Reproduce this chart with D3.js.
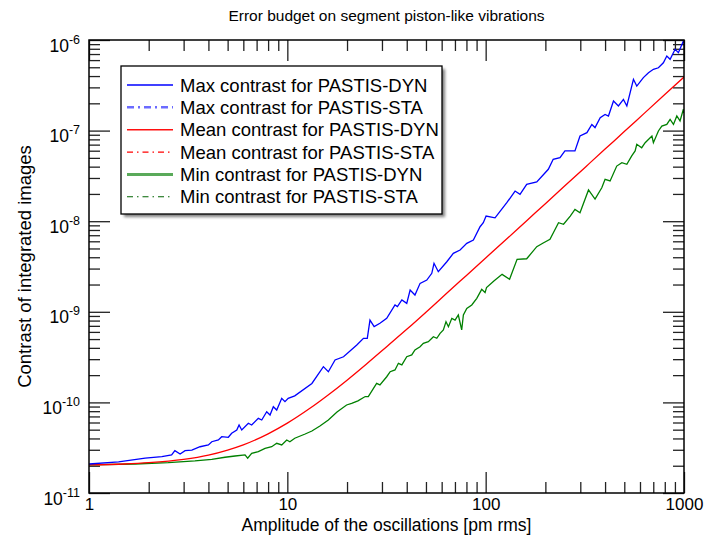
<!DOCTYPE html>
<html>
<head>
<meta charset="utf-8">
<script src="https://cdn.jsdelivr.net/npm/d3@7"></script>
<style>
  body { margin: 0; background: #fff; }
  svg { display: block; font-family: "Liberation Sans", Arial, Helvetica, sans-serif; }
</style>
</head>
<body>
<svg id="chart" width="705" height="537"></svg>
<script>
// Axis ticks
const xTicks = [1, 10, 100, 1000];
const yTicks = [1e-11, 1e-10, 1e-9, 1e-8, 1e-7, 1e-6];
const yTickExp = ['-11', '-10', '-9', '-8', '-7', '-6'];

const titleText = 'Error budget on segment piston-like vibrations';
const xTitle = 'Amplitude of the oscillations [pm rms]';
const yTitle = 'Contrast of integrated images';

const legendLabels = [
  'Max contrast for PASTIS-DYN',
  'Max contrast for PASTIS-STA',
  'Mean contrast for PASTIS-DYN',
  'Mean contrast for PASTIS-STA',
  'Min contrast for PASTIS-DYN',
  'Min contrast for PASTIS-STA'
];

// [amplitude (pm rms), contrast]
const meanSeries = [
  [1, 2.04e-11], [1.5, 2.09e-11], [2, 2.16e-11], [3, 2.35e-11], [4, 2.62e-11],
  [5, 2.98e-11], [6, 3.40e-11], [8, 4.5e-11], [10, 5.9e-11], [13, 8.6e-11],
  [16, 1.20e-10], [20, 1.76e-10], [25, 2.64e-10], [32, 4.2e-10], [40, 6.4e-10],
  [50, 9.9e-10], [63, 1.57e-9], [80, 2.52e-9], [100, 3.92e-9], [130, 6.6e-9],
  [160, 1.0e-8], [200, 1.56e-8], [250, 2.44e-8], [320, 4.0e-8], [400, 6.25e-8],
  [500, 9.75e-8], [630, 1.55e-7], [800, 2.5e-7], [1000, 3.9e-7]
];

const maxSeries = [
  [1, 2.09e-11], [1.41, 2.20e-11], [1.92, 2.42e-11], [2.33, 2.52e-11], [2.61, 2.63e-11],
  [2.71, 2.93e-11], [2.88, 2.69e-11], [3.05, 2.93e-11], [3.30, 2.98e-11], [3.63, 3.24e-11],
  [4.0, 3.39e-11], [4.16, 3.68e-11], [4.49, 3.85e-11], [4.67, 4.18e-11], [5.04, 4.12e-11],
  [5.24, 4.56e-11], [5.56, 4.96e-11], [5.71, 5.63e-11], [5.89, 4.96e-11], [6.36, 5.88e-11],
  [6.61, 5.63e-11], [7.14, 6.67e-11], [7.43, 6.39e-11], [7.87, 7.89e-11], [8.18, 7.26e-11],
  [8.50, 8.97e-11], [8.84, 8.24e-11], [9.37, 1.11e-10], [9.73, 1.02e-10], [10.1, 1.11e-10],
  [10.9, 1.18e-10], [13.3, 1.62e-10], [15.2, 2.48e-10], [16.1, 2.18e-10], [17.4, 2.94e-10],
  [19.2, 3.19e-10], [22.4, 4.30e-10], [24.2, 5.10e-10], [25.3, 5.10e-10], [26.1, 8.11e-10],
  [27.4, 6.85e-10], [29.3, 7.46e-10], [31.7, 8.47e-10], [34.9, 1.19e-9], [35.9, 1.14e-9],
  [37.8, 1.35e-9], [40.0, 1.24e-9], [41.6, 1.74e-9], [44.0, 1.53e-9], [46.7, 2.06e-9],
  [50.5, 2.24e-9], [53.5, 2.66e-9], [54.9, 3.43e-9], [57.7, 2.77e-9], [63.7, 3.57e-9],
  [68.7, 4.42e-9], [74.3, 4.81e-9], [80.3, 5.70e-9], [86.7, 6.20e-9], [93.7, 8.69e-9],
  [97.3, 9.62e-9], [100.5, 1.14e-8], [111.5, 1.09e-8], [127.8, 1.60e-8], [140.7, 2.15e-8],
  [149, 1.98e-8], [161, 2.55e-8], [181, 2.71e-8], [207, 3.74e-8], [219, 4.82e-8],
  [237, 5.02e-8], [251, 5.96e-8], [282, 5.96e-8], [299, 8.71e-8], [324, 9.48e-8],
  [343, 1.17e-7], [356, 1.08e-7], [378, 1.39e-7], [400, 1.51e-7], [416, 1.45e-7],
  [441, 2.12e-7], [467, 1.87e-7], [495, 2.21e-7], [515, 1.87e-7], [556, 3.68e-7],
  [578, 3.10e-7], [624, 3.84e-7], [662, 4.36e-7], [701, 4.75e-7], [743, 4.94e-7],
  [787, 5.61e-7], [819, 6.65e-7], [851, 6.12e-7], [902, 7.89e-7], [937, 7.24e-7],
  [993, 9.75e-7], [1000, 9.2e-7]
];

const minSeries = [
  [1, 2.04e-11], [1.71, 2.09e-11], [2.51, 2.16e-11], [3.42, 2.26e-11], [4.16, 2.35e-11],
  [4.85, 2.48e-11], [5.45, 2.56e-11], [6.12, 2.63e-11], [6.31, 2.42e-11], [6.61, 2.74e-11],
  [7.14, 2.86e-11], [7.72, 3.11e-11], [8.34, 3.24e-11], [8.84, 3.54e-11], [9.37, 3.39e-11],
  [9.93, 3.85e-11], [10.3, 3.68e-11], [10.9, 4.02e-11], [12.3, 4.48e-11], [13.3, 4.83e-11],
  [14.6, 5.49e-11], [16.1, 6.39e-11], [17.8, 7.83e-11], [19.9, 9.36e-11], [21.1, 9.77e-11],
  [22.7, 1.04e-10], [24.7, 1.16e-10], [25.6, 1.16e-10], [28.2, 1.62e-10], [29.3, 1.56e-10],
  [31.7, 1.92e-10], [33.0, 2.18e-10], [34.9, 2.28e-10], [36.3, 2.70e-10], [37.8, 2.59e-10],
  [40.0, 3.19e-10], [42.4, 3.34e-10], [44.0, 3.79e-10], [46.7, 4.12e-10], [48.5, 4.49e-10],
  [51.4, 4.68e-10], [54.5, 5.31e-10], [56.7, 5.10e-10], [58.9, 5.79e-10], [61.2, 6.30e-10],
  [63.1, 7.78e-10], [64.9, 6.85e-10], [67.5, 8.47e-10], [70.1, 8.11e-10], [72.8, 9.22e-10],
  [75.7, 6.30e-10], [77.2, 9.22e-10], [80.3, 1.09e-9], [85.1, 1.19e-9], [90.2, 1.41e-9],
  [95.5, 1.77e-9], [99.3, 1.63e-9], [101, 1.85e-9], [110, 2.19e-9], [121, 2.59e-9],
  [132, 2.29e-9], [144, 3.80e-9], [161, 3.85e-9], [181, 5.23e-9], [195, 5.74e-9],
  [211, 6.31e-9], [233, 9.62e-9], [247, 9.25e-9], [267, 1.14e-8], [282, 1.35e-8],
  [299, 1.24e-8], [330, 2.21e-8], [356, 1.75e-8], [385, 2.34e-8], [400, 2.90e-8],
  [424, 2.78e-8], [458, 4.06e-8], [486, 4.43e-8], [515, 4.25e-8], [545, 5.25e-8],
  [567, 5.96e-8], [578, 7.06e-8], [612, 6.47e-8], [637, 7.35e-8], [689, 8.71e-8],
  [701, 7.35e-8], [743, 9.90e-8], [773, 1.12e-7], [819, 1.17e-7], [851, 1.33e-7],
  [885, 1.17e-7], [920, 1.45e-7], [955, 1.28e-7], [993, 1.72e-7], [1000, 1.56e-7]
];

const svg = d3.select('#chart');
const plotLeft = 89, plotRight = 684, plotTop = 40, plotBottom = 493;

const x = d3.scaleLog().domain([1, 1000]).range([plotLeft, plotRight]);
const y = d3.scaleLog().domain([1e-11, 1e-6]).range([plotBottom, plotTop]);

const xMinor = [1, 10, 100].flatMap(d => [2, 3, 4, 5, 6, 7, 8, 9].map(m => d * m));
const yMinor = [1e-11, 1e-10, 1e-9, 1e-8, 1e-7].flatMap(d => [2, 3, 4, 5, 6, 7, 8, 9].map(m => d * m));

const defs = svg.append('defs');
defs.append('clipPath').attr('id', 'plot-clip')
  .append('rect')
  .attr('x', plotLeft).attr('y', plotTop)
  .attr('width', plotRight - plotLeft).attr('height', plotBottom - plotTop);
const blur = defs.append('filter').attr('id', 'shadow')
  .attr('x', '-10%').attr('y', '-10%').attr('width', '120%').attr('height', '120%');
blur.append('feGaussianBlur').attr('stdDeviation', 1.5);

// ticks on all four sides, pointing inward
let styleTicks = g => {
  g.select('.domain').remove();
  g.selectAll('.tick line').attr('stroke', '#222').attr('stroke-width', 1.3);
};

let addTicks = (axis, transform) => {
  return svg.append('g').attr('transform', transform).call(axis).call(styleTicks);
};

addTicks(d3.axisBottom(x).tickValues(xMinor).tickSize(-11).tickFormat(''), `translate(0,${plotBottom})`);
addTicks(d3.axisTop(x).tickValues(xMinor).tickSize(-11).tickFormat(''), `translate(0,${plotTop})`);
addTicks(d3.axisTop(x).tickValues(xTicks).tickSize(-21).tickFormat(''), `translate(0,${plotTop})`);
addTicks(d3.axisLeft(y).tickValues(yMinor).tickSize(-11).tickFormat(''), `translate(${plotLeft},0)`);
addTicks(d3.axisRight(y).tickValues(yMinor).tickSize(-11).tickFormat(''), `translate(${plotRight},0)`);
addTicks(d3.axisRight(y).tickValues(yTicks).tickSize(-21).tickFormat(''), `translate(${plotRight},0)`);

let xAxis = addTicks(
  d3.axisBottom(x).tickValues(xTicks).tickSize(-21).tickPadding(5).tickFormat(d => d),
  `translate(0,${plotBottom})`);
xAxis.selectAll('text')
  .attr('fill', '#000')
  .style('font-size', '17px');

let yAxis = addTicks(
  d3.axisLeft(y).tickValues(yTicks).tickSize(-21).tickPadding(9).tickFormat(''),
  `translate(${plotLeft},0)`);
yAxis.selectAll('text')
  .attr('fill', '#000')
  .attr('dy', 11)
  .style('font-size', '17.5px')
  .each(function (d, i) {
    let t = d3.select(this);
    t.append('tspan').text('10');
    t.append('tspan').attr('dy', -8).style('font-size', '12.5px').text(yTickExp[i]);
  });

// curves
let line = d3.line()
  .x(d => x(d[0]))
  .y(d => y(d[1]));

let curves = svg.append('g').attr('clip-path', 'url(#plot-clip)');
curves.append('path').datum(minSeries)
  .attr('fill', 'none').attr('stroke', '#008000').attr('stroke-width', 1.3)
  .attr('d', line);
curves.append('path').datum(meanSeries)
  .attr('fill', 'none').attr('stroke', '#ff0000').attr('stroke-width', 1.3)
  .attr('d', line.curve(d3.curveMonotoneX));
curves.append('path').datum(maxSeries)
  .attr('fill', 'none').attr('stroke', '#0000ff').attr('stroke-width', 1.3)
  .attr('d', line.curve(d3.curveLinear));

// frame
svg.append('rect')
  .attr('x', plotLeft).attr('y', plotTop)
  .attr('width', plotRight - plotLeft).attr('height', plotBottom - plotTop)
  .attr('fill', 'none').attr('stroke', '#000').attr('stroke-width', 1.5);

// titles
svg.append('text')
  .attr('x', (plotLeft + plotRight) / 2).attr('y', 21)
  .attr('text-anchor', 'middle')
  .style('font-size', '15.5px')
  .text(titleText);

svg.append('text')
  .attr('x', (plotLeft + plotRight) / 2).attr('y', 531)
  .attr('text-anchor', 'middle')
  .style('font-size', '17.5px')
  .text(xTitle);

svg.append('text')
  .attr('transform', `translate(31,${(plotTop + plotBottom) / 2}) rotate(-90)`)
  .attr('text-anchor', 'middle')
  .style('font-size', '18.5px')
  .text(yTitle);

// legend
const legendStyles = [
  { color: '#0000ff', width: 1.5, dash: null },
  { color: '#6b6bff', width: 2.5, dash: '7,4,2,4' },
  { color: '#ff1010', width: 1.5, dash: null },
  { color: '#ff0000', width: 1.2, dash: '6,4,1.5,4' },
  { color: '#5aaa5a', width: 3, dash: null },
  { color: '#006400', width: 1.2, dash: '6,4,1.5,4' }
];

let legend = svg.append('g');
legend.append('rect')
  .attr('x', 124).attr('y', 69).attr('width', 321).attr('height', 148)
  .attr('fill', '#808080').attr('filter', 'url(#shadow)');
legend.append('rect')
  .attr('x', 121).attr('y', 66).attr('width', 321).attr('height', 148)
  .attr('fill', '#fff').attr('stroke', '#000').attr('stroke-width', 1.3);

let rows = legend.selectAll('.row')
  .data(legendLabels)
  .enter()
  .append('g')
  .attr('class', 'row')
  .attr('transform', (d, i) => 'translate(0,' + (85 + i * 22.35) + ')');

rows.append('line')
  .attr('x1', 127).attr('x2', 173)
  .attr('stroke', (d, i) => legendStyles[i].color)
  .attr('stroke-width', (d, i) => legendStyles[i].width)
  .attr('stroke-dasharray', (d, i) => legendStyles[i].dash);

rows.append('text')
  .attr('x', 180).attr('y', 6.5)
  .style('font-size', '18.5px')
  .text(d => d);
</script>
</body>
</html>
